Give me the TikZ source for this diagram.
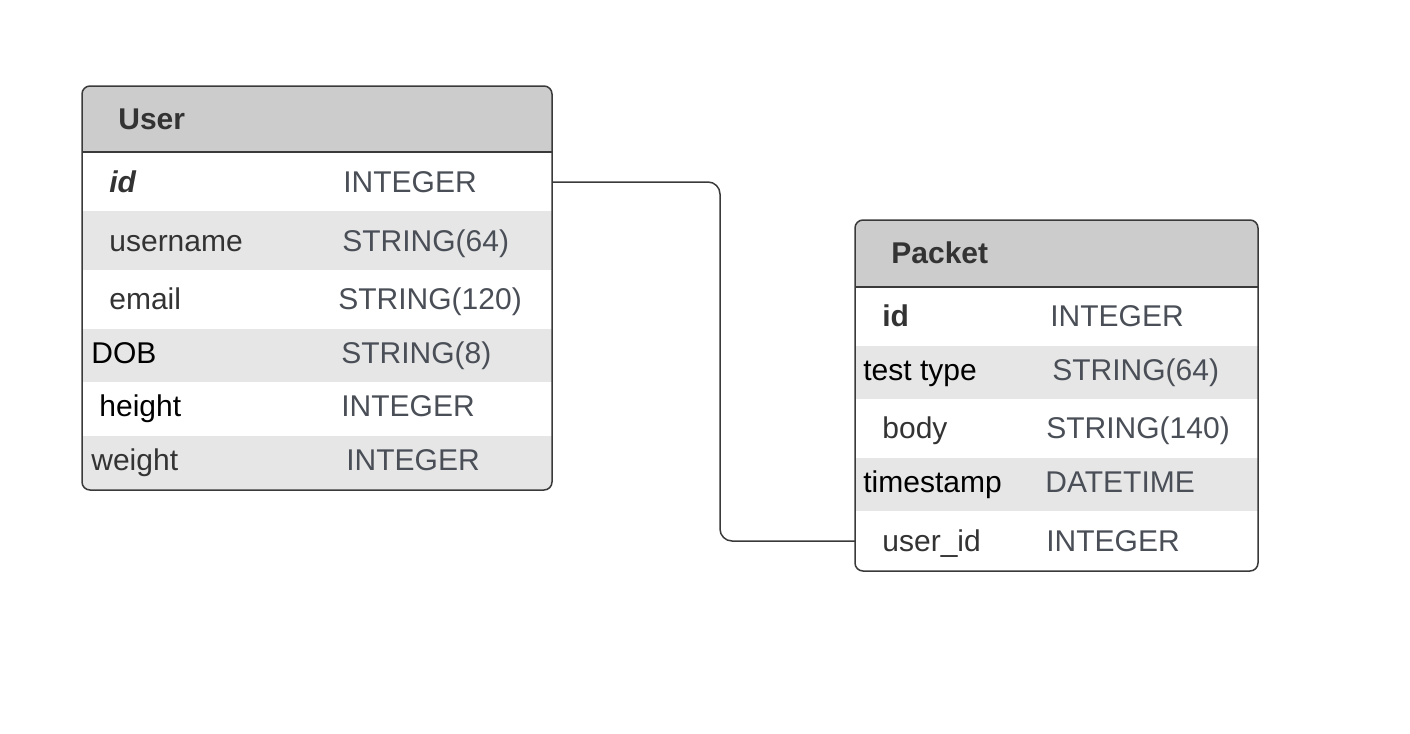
\documentclass[tikz,border=0pt]{standalone}
\usepackage{fontspec}
\setmainfont{Liberation Sans}
\definecolor{headgray}{HTML}{CCCCCC}
\definecolor{stripe}{HTML}{E6E6E6}
\definecolor{edge}{HTML}{3A3A3A}
\definecolor{typegray}{HTML}{4A4F57}
\definecolor{namegray}{HTML}{333333}

\begin{document}
\begin{tikzpicture}[x=0.5pt,y=-0.5pt,
  title/.style={anchor=base west,inner sep=0pt,font=\fontsize{15}{18}\selectfont\bfseries,text=namegray},
  field/.style={anchor=base west,inner sep=0pt,font=\fontsize{15}{18}\selectfont,text=namegray},
  plainfield/.style={field,text=black},
  kind/.style={anchor=base west,inner sep=0pt,font=\fontsize{15}{18}\selectfont,text=typegray},
  outline/.style={draw=edge,line width=0.75pt,rounded corners=4pt},
  link/.style={draw=edge,line width=0.75pt,rounded corners=6pt}]
\useasboundingbox (0,0) rectangle (1410,734);

% User table
\begin{scope}
\clip[rounded corners=4pt] (82,86) rectangle (552,490);
\fill[white] (82,86) rectangle (552,490);
\fill[headgray] (82,86) rectangle (552,152);
\fill[stripe] (82,211) rectangle (552,270);
\fill[stripe] (82,329) rectangle (552,382);
\fill[stripe] (82,436) rectangle (552,490);
\end{scope}
\draw[outline] (82,86) rectangle (552,490);
\draw[draw=edge,line width=0.75pt] (82,152) -- (552,152);

\node[title] (user) at (118,129) {User};
\node[field,font=\fontsize{15}{18}\selectfont\bfseries\itshape] (user-id) at (109,192) {id};
\node[kind] (user-id-type) at (343,192) {INTEGER};
\node[field] (user-name) at (109,251) {username};
\node[kind] (user-name-type) at (342,251) {STRING(64)};
\node[field] (user-email) at (109,309) {email};
\node[kind] (user-email-type) at (338,309) {STRING(120)};
\node[plainfield] (user-dob) at (91,363) {DOB};
\node[kind] (user-dob-type) at (341,363) {STRING(8)};
\node[plainfield] (user-height) at (99,416) {height};
\node[kind] (user-height-type) at (341,416) {INTEGER};
\node[field] (user-weight) at (91,470) {weight};
\node[kind] (user-weight-type) at (346,470) {INTEGER};

% Packet table
\begin{scope}
\clip[rounded corners=4pt] (855,220) rectangle (1258,571);
\fill[white] (855,220) rectangle (1258,571);
\fill[headgray] (855,220) rectangle (1258,287);
\fill[stripe] (855,346) rectangle (1258,399);
\fill[stripe] (855,458) rectangle (1258,511);
\end{scope}
\draw[outline] (855,220) rectangle (1258,571);
\draw[draw=edge,line width=0.75pt] (855,287) -- (1258,287);

\node[title] (packet) at (891,263) {Packet};
\node[field,font=\fontsize{15}{18}\selectfont\bfseries] (packet-id) at (882,326) {id};
\node[kind] (packet-id-type) at (1050,326) {INTEGER};
\node[plainfield] (packet-test) at (863,380) {test type};
\node[kind] (packet-test-type) at (1052,380) {STRING(64)};
\node[field] (packet-body) at (882,438) {body};
\node[kind] (packet-body-type) at (1046,438) {STRING(140)};
\node[plainfield] (packet-time) at (863,492) {timestamp};
\node[kind] (packet-time-type) at (1045,492) {DATETIME};
\node[field] (packet-uid) at (882,551) {user\_id};
\node[kind] (packet-uid-type) at (1046,551) {INTEGER};

% relation User.id -> Packet.user_id
\coordinate (user-id-port) at (552,182);
\coordinate (packet-uid-port) at (855,541);
\draw[link] (user-id-port) -| (720,360) |- (packet-uid-port);

\end{tikzpicture}
\end{document}
